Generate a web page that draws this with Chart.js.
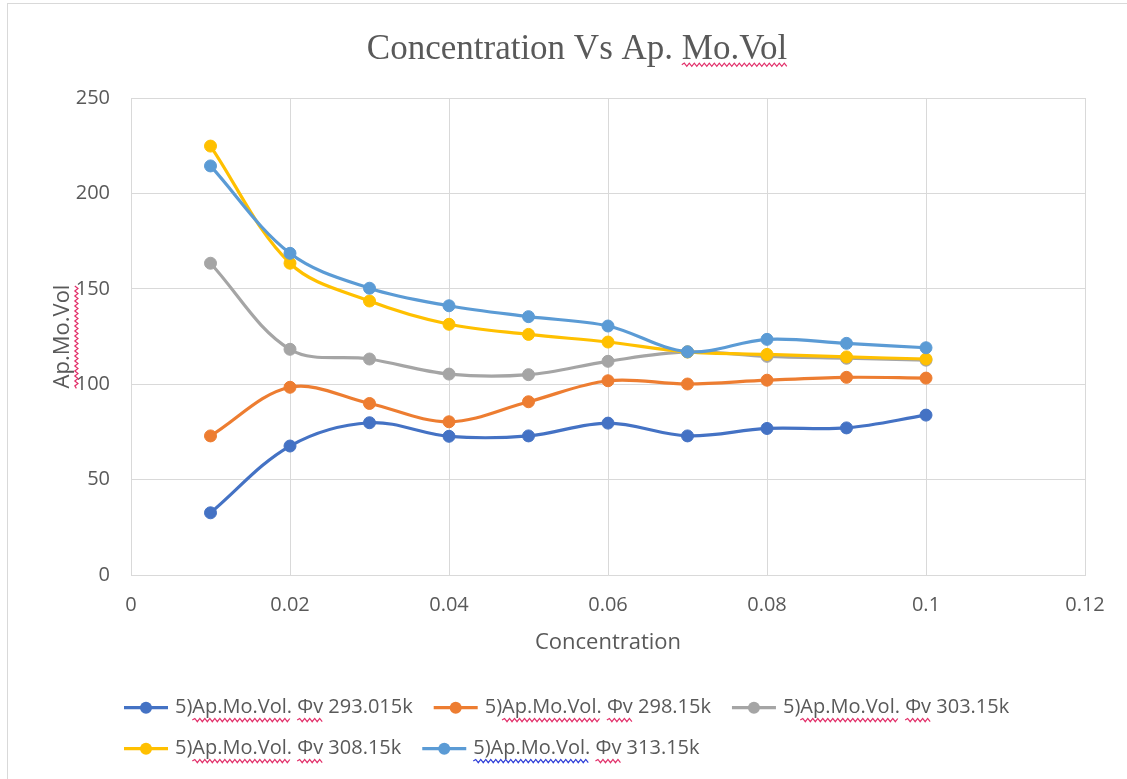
<!DOCTYPE html>
<html>
<head>
<meta charset="utf-8">
<script src="https://cdn.jsdelivr.net/npm/chart.js@4.4.1/dist/chart.umd.min.js"></script>
<style>
  html, body { margin: 0; padding: 0; background: #fff; overflow: hidden; }
  #wrap { position: relative; width: 1127px; height: 779px; }
  #frame { position: absolute; left: 7px; top: 3px; width: 1140px; height: 800px;
           border: 1px solid #d9d9d9; box-sizing: border-box; pointer-events: none; }
  canvas { position: absolute; left: 0; top: 0; }
</style>
</head>
<body>
<div id="wrap">
  <canvas id="chart" width="1127" height="779"></canvas>
  <div id="frame"></div>
</div>
<script>
// Apparent molar volume against concentration at five temperatures
const concentration = [0.01, 0.02, 0.03, 0.04, 0.05, 0.06, 0.07, 0.08, 0.09, 0.1];
const vol293 = [32.6, 67.6, 79.8, 72.7, 72.9, 79.6, 72.9, 76.8, 77.1, 83.8];
const vol298 = [72.9, 98.4, 89.9, 80.3, 90.8, 101.8, 100.1, 102.1, 103.6, 103.2];
const vol303 = [163.4, 118.3, 113.2, 105.3, 105.0, 112.0, 116.9, 114.6, 113.6, 112.6];
const vol308 = [224.8, 163.4, 143.6, 131.4, 126.1, 122.1, 116.9, 115.6, 114.3, 113.2];
const vol313 = [214.4, 168.6, 150.3, 141.1, 135.4, 130.5, 117.0, 123.5, 121.4, 119.1];
const seriesLabels = [
  '5)Ap.Mo.Vol. Φv 293.015k',
  '5)Ap.Mo.Vol. Φv 298.15k',
  '5)Ap.Mo.Vol. Φv 303.15k',
  '5)Ap.Mo.Vol. Φv 308.15k',
  '5)Ap.Mo.Vol. Φv 313.15k'
];
const xTickLabels = ['0', '0.02', '0.04', '0.06', '0.08', '0.1', '0.12'];
const yTickLabels = ['0', '50', '100', '150', '200', '250'];
const chartTitle = 'Concentration Vs Ap. Mo.Vol';
const xTitle = 'Concentration';
const yTitle = 'Ap.Mo.Vol';

// styling
const seriesColors = ['#4472C4', '#ED7D31', '#A5A5A5', '#FFC000', '#5B9BD5'];
const TEXT = '#595959';
const GRID = '#d9d9d9';
const SANS = '"Open Sans", sans-serif';
const SERIF = '"Liberation Serif", serif';
const TITLE_SIZE = 35, TITLE_PAD_TOP = 29;
const AXIS_TITLE_SIZE = 22, Y_TITLE_PAD_TOP = -19;
const TICK_SIZE = 20, LEGEND_SIZE = 20, LEGEND_BOX = 41, LEGEND_PAD = 21;

Chart.defaults.font.family = SANS;
Chart.defaults.color = TEXT;

const allSeries = [vol293, vol298, vol303, vol308, vol313];
const datasets = allSeries.map((vals, i) => ({
  label: seriesLabels[i],
  data: concentration.map((c, j) => ({ x: c, y: vals[j] })),
  borderColor: seriesColors[i],
  backgroundColor: seriesColors[i],
  pointBackgroundColor: seriesColors[i],
  pointBorderColor: seriesColors[i],
  borderWidth: 3.2,
  pointRadius: 6,
  pointBorderWidth: 1,
  tension: 0.35,
  order: allSeries.length - 1 - i   // later series painted on top
}));

// wavy proofing underline
function squiggle(ctx, x0, x1, y, color) {
  ctx.save();
  ctx.strokeStyle = color;
  ctx.lineWidth = 1.2;
  ctx.beginPath();
  ctx.moveTo(x0, y);
  let up = true;
  for (let x = x0 + 2.5; x <= x1; x += 2.5) {
    ctx.lineTo(x, up ? y - 1.6 : y + 1.6);
    up = !up;
  }
  ctx.stroke();
  ctx.restore();
}

const decorations = {
  id: 'decorations',
  afterLayout(chart) {
    // start the legend rows just left of the plot area
    const lg = chart.legend;
    lg.left = chart.chartArea.left - 28;
    lg.width = lg.right - lg.left;
  },
  afterDraw(chart) {
    const ctx = chart.ctx;
    const RED = '#e2306a';
    const BLUE = '#2f3fd8';

    // legend line-and-marker symbols plus underlines
    const lg = chart.legend;
    ctx.save();
    ctx.font = LEGEND_SIZE + 'px ' + SANS;
    lg.legendItems.forEach((item, i) => {
      const hb = lg.legendHitBoxes[i];
      const cy = hb.top + hb.height / 2;
      const color = seriesColors[item.datasetIndex];
      ctx.strokeStyle = color;
      ctx.lineWidth = 3.2;
      ctx.beginPath();
      ctx.moveTo(hb.left, cy);
      ctx.lineTo(hb.left + 44, cy);
      ctx.stroke();
      ctx.fillStyle = color;
      ctx.beginPath();
      ctx.arc(hb.left + 22, cy, 6, 0, Math.PI * 2);
      ctx.fill();

      const tx = hb.left + LEGEND_BOX + LEGEND_SIZE / 2;
      const uy = cy + LEGEND_SIZE * 0.62;
      const a = ctx.measureText('5)').width;
      const b = ctx.measureText('5)Ap.Mo.Vol.').width;
      const c = ctx.measureText('5)Ap.Mo.Vol. ').width;
      const d = ctx.measureText('5)Ap.Mo.Vol. Φv').width;
      if (item.datasetIndex === 4) {
        squiggle(ctx, tx, tx + b, uy, BLUE);
      } else {
        squiggle(ctx, tx + a, tx + b, uy, RED);
      }
      squiggle(ctx, tx + c, tx + d, uy, RED);
    });

    // chart title underline under "Mo.Vol"
    const tb = chart.titleBlock;
    ctx.font = TITLE_SIZE + 'px ' + SERIF;
    const tw = ctx.measureText(chartTitle).width;
    const tcx = (tb.left + tb.right) / 2;
    const tcy = tb.top + TITLE_PAD_TOP + TITLE_SIZE * 1.2 / 2;
    const t0 = tcx - tw / 2 + ctx.measureText('Concentration Vs Ap. ').width;
    squiggle(ctx, t0, tcx + tw / 2, tcy + TITLE_SIZE * 0.42, RED);

    // y-axis title underline (rotated text)
    const ys = chart.scales.y;
    ctx.font = AXIS_TITLE_SIZE + 'px ' + SANS;
    const yw = ctx.measureText(yTitle).width;
    const yx = ys.left + AXIS_TITLE_SIZE * 1.2 / 2 + Y_TITLE_PAD_TOP;
    const yy = (ys.top + ys.bottom) / 2;
    ctx.translate(yx, yy);
    ctx.rotate(-Math.PI / 2);
    squiggle(ctx, -yw / 2, yw / 2, AXIS_TITLE_SIZE * 0.6, RED);
    ctx.restore();
  }
};

new Chart(document.getElementById('chart'), {
  type: 'line',
  data: { datasets },
  options: {
    responsive: false,
    animation: false,
    events: [],
    layout: { padding: { left: 69, right: 42, top: 0, bottom: 10.3 } },
    scales: {
      x: {
        type: 'linear',
        min: 0,
        max: 0.12,
        ticks: {
          stepSize: 0.02,
          padding: 0,
          color: TEXT,
          font: { size: TICK_SIZE },
          callback: (v, i) => xTickLabels[i]
        },
        grid: { color: GRID, lineWidth: 1, tickLength: 18, tickColor: 'rgba(0,0,0,0)' },
        border: { color: GRID, width: 1 },
        title: {
          display: true,
          text: xTitle,
          color: TEXT,
          font: { size: AXIS_TITLE_SIZE },
          padding: { top: 12.8, bottom: 20.5 }
        }
      },
      y: {
        min: 0,
        max: 250,
        afterFit: (s) => { s.width = 62; },
        ticks: {
          stepSize: 50,
          padding: 0,
          color: TEXT,
          font: { size: TICK_SIZE },
          callback: (v, i) => yTickLabels[i]
        },
        grid: { color: GRID, lineWidth: 1, tickLength: 21, tickColor: 'rgba(0,0,0,0)' },
        border: { color: GRID, width: 1 },
        title: {
          display: true,
          text: yTitle,
          color: TEXT,
          font: { size: AXIS_TITLE_SIZE },
          padding: { top: Y_TITLE_PAD_TOP, bottom: 0 }
        }
      }
    },
    plugins: {
      title: {
        display: true,
        text: chartTitle,
        color: TEXT,
        font: { family: SERIF, size: TITLE_SIZE, weight: 'normal', lineHeight: 1.2 },
        padding: { top: TITLE_PAD_TOP, bottom: 27 }
      },
      legend: {
        position: 'bottom',
        align: 'start',
        labels: {
          color: TEXT,
          font: { size: LEGEND_SIZE },
          boxWidth: LEGEND_BOX,
          boxHeight: 19,
          padding: LEGEND_PAD,
          sort: (a, b) => a.datasetIndex - b.datasetIndex,
          generateLabels: (chart) =>
            Chart.defaults.plugins.legend.labels.generateLabels(chart).map((l) => ({
              ...l,
              fillStyle: 'rgba(0,0,0,0)',
              strokeStyle: 'rgba(0,0,0,0)',
              lineWidth: 0
            }))
        }
      },
      tooltip: { enabled: false }
    }
  },
  plugins: [decorations]
});
</script>
</body>
</html>
